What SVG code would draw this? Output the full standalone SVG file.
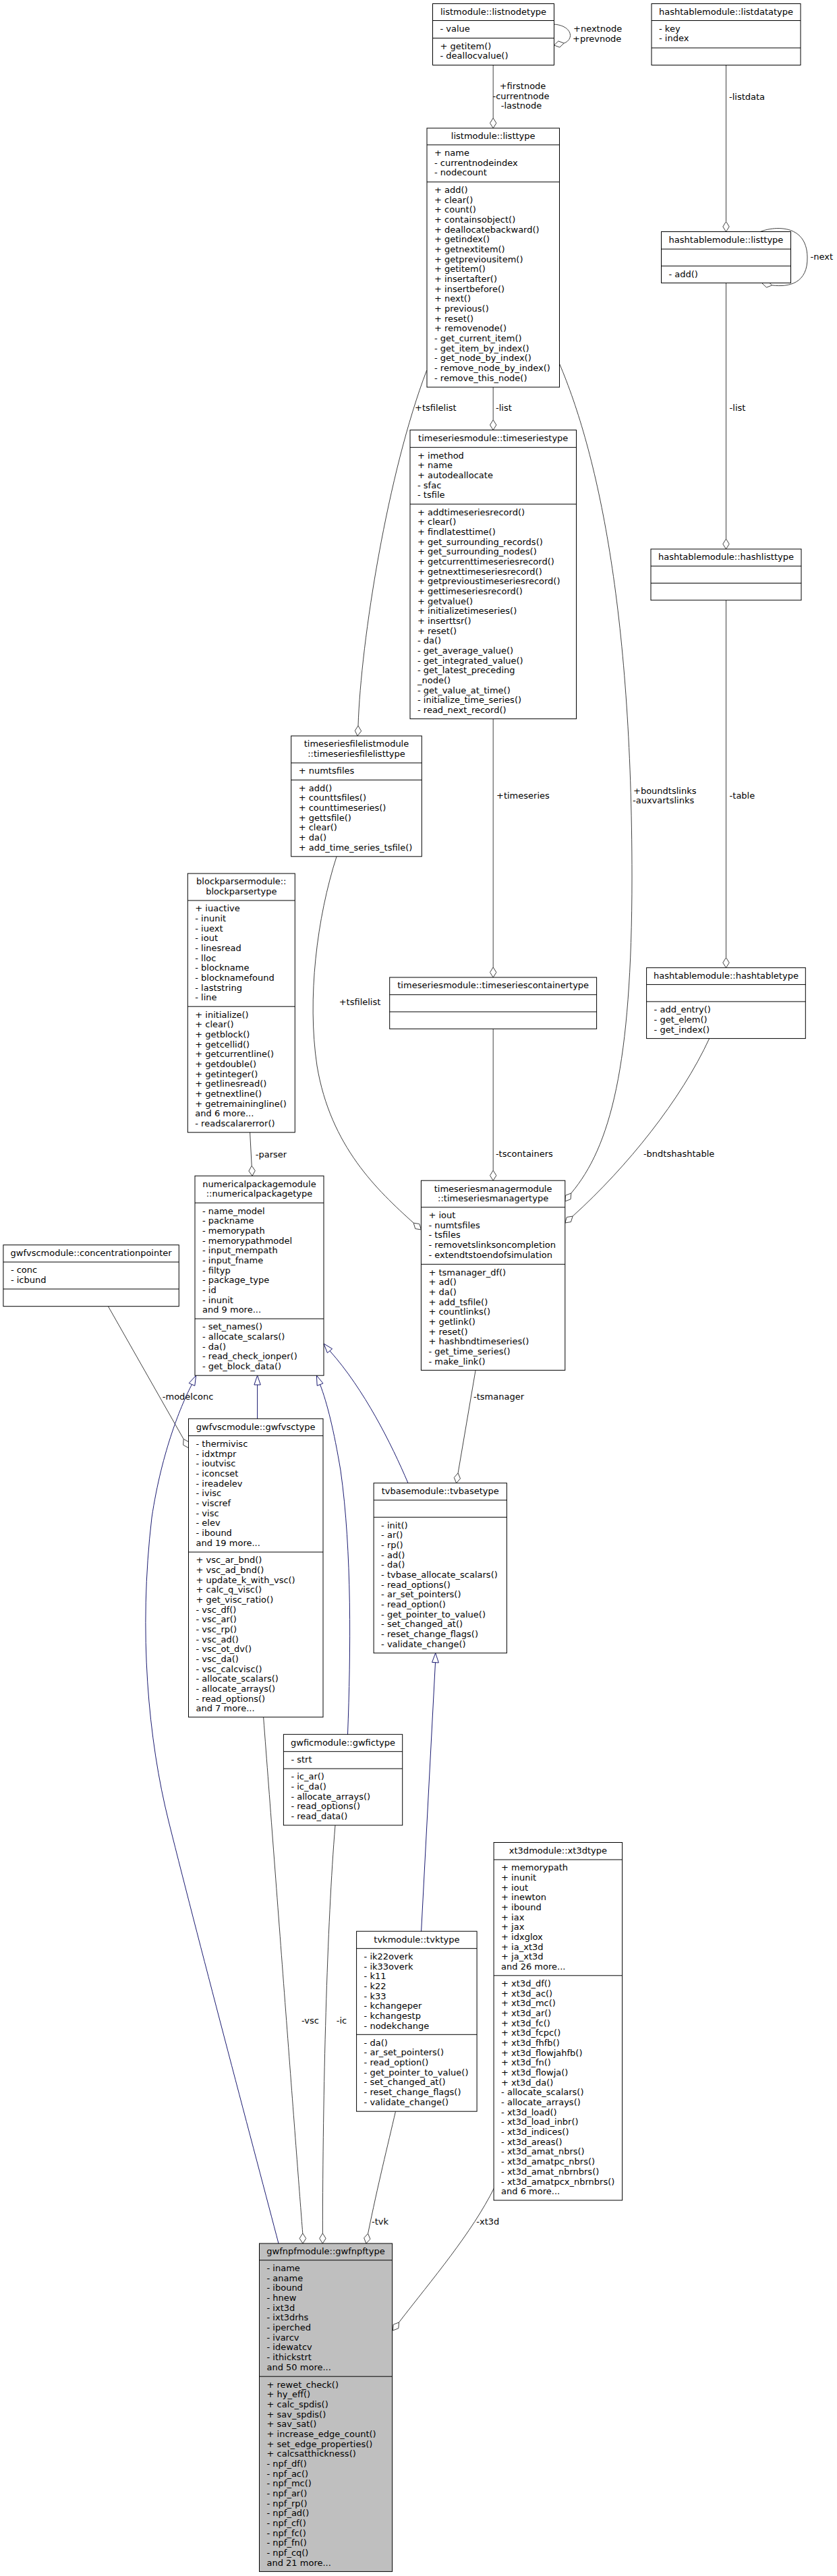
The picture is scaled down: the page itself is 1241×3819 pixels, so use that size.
<svg xmlns="http://www.w3.org/2000/svg" width="1241" height="3819" viewBox="0 0 1241 3819">
<style>
.n rect{fill:#fff;stroke:#000;stroke-width:1}
.n path{fill:none;stroke:#000;stroke-width:1}
.g rect{fill:#bfbfbf}
text{font-family:"DejaVu Sans","Liberation Sans",sans-serif;font-size:13px;fill:#000}
.c{text-anchor:middle}
.e{fill:none;stroke:#404040;stroke-width:1}
.d{fill:#fff;stroke:#404040;stroke-width:1}
.i{fill:none;stroke:#191970;stroke-width:1}
.a{fill:#fff;stroke:#191970;stroke-width:1}
</style>
<rect width="1241" height="3819" fill="#fff"/>

<g id="connectors">
<!-- listnodetype self loop -->
<path class="e" d="M821.5,36 C848,38 852,58 836.2,64.1"/>
<polygon class="d" points="821.5,67 829.8,70.1 836.2,64.1 827.9,60.9"/>
<text x="850" y="47">+nextnode</text>
<text x="849" y="61.5">+prevnode</text>
<!-- listnodetype -> listtype -->
<path class="e" d="M731.2,96.5 V175"/>
<polygon class="d" points="731.2,190 735.9,182.5 731.2,175 726.5,182.5"/>
<text class="c" x="775" y="132">+firstnode</text>
<text class="c" x="772.5" y="146.6">-currentnode</text>
<text class="c" x="773" y="161">-lastnode</text>
<!-- listdatatype -> hashtable listtype -->
<path class="e" d="M1076.5,96.5 V328.5"/>
<polygon class="d" points="1076.5,343.5 1081.2,336 1076.5,328.5 1071.8,336"/>
<text x="1081" y="147.6">-listdata</text>
<!-- hashtable listtype self loop -->
<path class="e" d="M1127.4,343.5 C1145,336 1196,330 1197,381 C1198,420 1170,426 1144.7,422.9"/>
<polygon class="d" points="1130,420 1136.5,426.1 1144.7,422.9 1138.3,416.9"/>
<text x="1201.5" y="385">-next</text>
<!-- hashtable listtype -> hashlisttype -->
<path class="e" d="M1076.5,419.5 V799"/>
<polygon class="d" points="1076.5,814 1081.2,806.5 1076.5,799 1071.8,806.5"/>
<text x="1081.6" y="608.7">-list</text>
<!-- listtype -> timeseriestype -->
<path class="e" d="M731.2,574 V622.5"/>
<polygon class="d" points="731.2,637.5 735.9,630 731.2,622.5 726.5,630"/>
<text x="735" y="608.7">-list</text>
<!-- listtype -> timeseriesfilelisttype -->
<path class="e" d="M632.7,549 C575,700 535,950 531,1076"/>
<polygon class="d" points="530,1091 535.7,1083.8 531,1076 526.3,1083.2"/>
<text x="615" y="608.7">+tsfilelist</text>
<!-- timeseriestype -> containertype -->
<path class="e" d="M731.2,1065.7 V1434"/>
<polygon class="d" points="731.2,1449 735.9,1441.5 731.2,1434 726.5,1441.5"/>
<text x="736" y="1184.3">+timeseries</text>
<!-- listtype -> manager (boundtslinks) -->
<path class="e" d="M829.4,539 C885,670 937,900 937,1300 C937,1580 905,1700 846.8,1769"/>
<polygon class="d" points="837.8,1781 838.5,1772.2 846.8,1769 846.1,1777.8"/>
<text x="939" y="1176.9">+boundtslinks</text>
<text x="938" y="1190.8">-auxvartslinks</text>
<!-- hashlisttype -> hashtabletype -->
<path class="e" d="M1076.5,889.8 V1419.7"/>
<polygon class="d" points="1076.5,1434.7 1081.2,1427.2 1076.5,1419.7 1071.8,1427.2"/>
<text x="1081.6" y="1184.3">-table</text>
<!-- timeseriesfilelisttype -> manager -->
<path class="e" d="M499,1270 C470,1360 455,1480 470,1580 C490,1700 560,1765 613.2,1813.1"/>
<polygon class="d" points="624.4,1823 621.9,1814.5 613.2,1813.1 615.7,1821.6"/>
<text x="502.7" y="1490.4">+tsfilelist</text>
<!-- containertype -> manager -->
<path class="e" d="M731.2,1525.3 V1735.2"/>
<polygon class="d" points="731.2,1750.2 735.9,1742.7 731.2,1735.2 726.5,1742.7"/>
<text x="734.9" y="1715.3">-tscontainers</text>
<!-- hashtabletype -> manager -->
<path class="e" d="M1051.7,1539.6 C1010,1630 930,1730 849.1,1803.1"/>
<polygon class="d" points="837.8,1813 840.3,1804.5 849.1,1803.1 846.5,1811.5"/>
<text x="953.9" y="1715.3">-bndtshashtable</text>
<!-- blockparser -> numericalpackage -->
<path class="e" d="M370.6,1678.8 L373.2,1728.3"/>
<polygon class="d" points="374,1743.3 378.3,1735.55 373.2,1728.3 368.9,1736.05"/>
<text x="378.8" y="1715.7">-parser</text>
<!-- manager -> tvbase -->
<path class="e" d="M705.1,2031.4 L679.1,2183.9"/>
<polygon class="d" points="676.6,2198.7 682.5,2192.1 679.1,2183.9 673.3,2190.5"/>
<text x="702" y="2075.3">-tsmanager</text>
<!-- concentrationpointer -> gwfvsc -->
<path class="e" d="M160.4,1936.7 L272.15,2133.45"/>
<polygon class="d" points="279.5,2146.5 279.9,2137.7 272.15,2133.45 271.7,2142.3"/>
<text x="240.8" y="2074.9">-modelconc</text>
<!-- inheritance gwfvsc -> numericalpackage -->
<path class="i" d="M381.6,2103.3 V2053"/>
<polygon class="a" points="381.6,2039.2 386.3,2053 376.9,2053"/>
<!-- inheritance gwfnpf -> numericalpackage -->
<path class="i" d="M413,3326 C380,3200 300,2900 250,2700 C220,2580 205,2420 225,2250 C240,2150 270,2080 284.5,2052.5"/>
<polygon class="a" points="290.6,2039.2 288.8,2054.4 280.2,2050.6"/>
<!-- inheritance gwfic -> numericalpackage -->
<path class="i" d="M515.5,2571.3 C520,2450 522,2300 505,2180 C495,2120 485,2080 474.6,2052.6"/>
<polygon class="a" points="469.4,2039.2 479,2050.9 470.2,2054.3"/>
<!-- inheritance tvbase -> numericalpackage -->
<path class="i" d="M605,2198.7 C580,2140 540,2060 489,2002.7"/>
<polygon class="a" points="480,1992 492.6,1999.7 485.4,2005.7"/>
<!-- inheritance tvk -> tvbase -->
<path class="i" d="M624.6,2863.2 L645.5,2464.7"/>
<polygon class="a" points="645.7,2450.7 650.4,2465 640.6,2464.4"/>
<!-- gwfvsc -> gwfnpf -->
<path class="e" d="M390.6,2545.7 C410,2800 440,3200 448.8,3311"/>
<polygon class="d" points="449,3326 453.7,3318.5 448.8,3311 444.1,3318.5"/>
<text x="447" y="3000">-vsc</text>
<!-- gwfic -> gwfnpf -->
<path class="e" d="M497,2706 C485,2850 478.4,3100 478.4,3311"/>
<polygon class="d" points="478.4,3326 483.1,3318.5 478.4,3311 473.7,3318.5"/>
<text x="498.8" y="3000">-ic</text>
<!-- tvk -> gwfnpf -->
<path class="e" d="M586.5,3130.2 C575,3180 560,3240 545.6,3311.3"/>
<polygon class="d" points="542.9,3326 548.9,3319.5 545.6,3311.3 539.7,3317.8"/>
<text x="551" y="3297.5">-tvk</text>
<!-- xt3d -> gwfnpf -->
<path class="e" d="M733,3243 C700,3310 640,3380 591.5,3443"/>
<polygon class="d" points="582.5,3455 583.2,3446.2 591.5,3443 590.8,3451.8"/>
<text x="706.3" y="3297.5">-xt3d</text>
</g>

<g id="listnodetype" class="n">
<rect x="641.5" y="5.5" width="180" height="91"/>
<path d="M641.5,30.5H821.5M641.5,56.5H821.5"/>
<text class="c" x="731.5" y="22">listmodule::listnodetype</text>
<text x="652.5" y="46.8">- value</text>
<text x="652.5" y="72.8"><tspan x="652.5">+ getitem()</tspan><tspan x="652.5" dy="14.67">- deallocvalue()</tspan></text>
</g>

<g id="listdatatype" class="n">
<rect x="966" y="5.5" width="221" height="91"/>
<path d="M966,30.5H1187M966,71H1187"/>
<text class="c" x="1076.5" y="22">hashtablemodule::listdatatype</text>
<text x="977" y="46.8"><tspan x="977">- key</tspan><tspan x="977" dy="14.67">- index</tspan></text>
</g>

<g id="listtype" class="n">
<rect x="633" y="190" width="196.5" height="384"/>
<path d="M633,214.8H829.5M633,269.8H829.5"/>
<text class="c" x="731.2" y="206.3">listmodule::listtype</text>
<text x="644" y="231.1"><tspan x="644">+ name</tspan><tspan x="644" dy="14.67">- currentnodeindex</tspan><tspan x="644" dy="14.67">- nodecount</tspan></text>
<text x="644" y="286.1"><tspan x="644">+ add()</tspan><tspan x="644" dy="14.67">+ clear()</tspan><tspan x="644" dy="14.67">+ count()</tspan><tspan x="644" dy="14.67">+ containsobject()</tspan><tspan x="644" dy="14.67">+ deallocatebackward()</tspan><tspan x="644" dy="14.67">+ getindex()</tspan><tspan x="644" dy="14.67">+ getnextitem()</tspan><tspan x="644" dy="14.67">+ getpreviousitem()</tspan><tspan x="644" dy="14.67">+ getitem()</tspan><tspan x="644" dy="14.67">+ insertafter()</tspan><tspan x="644" dy="14.67">+ insertbefore()</tspan><tspan x="644" dy="14.67">+ next()</tspan><tspan x="644" dy="14.67">+ previous()</tspan><tspan x="644" dy="14.67">+ reset()</tspan><tspan x="644" dy="14.67">+ removenode()</tspan><tspan x="644" dy="14.67">- get_current_item()</tspan><tspan x="644" dy="14.67">- get_item_by_index()</tspan><tspan x="644" dy="14.67">- get_node_by_index()</tspan><tspan x="644" dy="14.67">- remove_node_by_index()</tspan><tspan x="644" dy="14.67">- remove_this_node()</tspan></text>
</g>

<g id="hashtable_listtype" class="n">
<rect x="980.5" y="343.5" width="192" height="76"/>
<path d="M980.5,369.2H1172.5M980.5,394.3H1172.5"/>
<text class="c" x="1076.5" y="360">hashtablemodule::listtype</text>
<text x="991.5" y="410.6">- add()</text>
</g>

<g id="timeseriestype" class="n">
<rect x="608" y="637.5" width="246.5" height="428.2"/>
<path d="M608,663.3H854.5M608,747.3H854.5"/>
<text class="c" x="731.2" y="653.8">timeseriesmodule::timeseriestype</text>
<text x="619" y="679.6"><tspan x="619">+ imethod</tspan><tspan x="619" dy="14.67">+ name</tspan><tspan x="619" dy="14.67">+ autodeallocate</tspan><tspan x="619" dy="14.67">- sfac</tspan><tspan x="619" dy="14.67">- tsfile</tspan></text>
<text x="619" y="763.6"><tspan x="619">+ addtimeseriesrecord()</tspan><tspan x="619" dy="14.67">+ clear()</tspan><tspan x="619" dy="14.67">+ findlatesttime()</tspan><tspan x="619" dy="14.67">+ get_surrounding_records()</tspan><tspan x="619" dy="14.67">+ get_surrounding_nodes()</tspan><tspan x="619" dy="14.67">+ getcurrenttimeseriesrecord()</tspan><tspan x="619" dy="14.67">+ getnexttimeseriesrecord()</tspan><tspan x="619" dy="14.67">+ getprevioustimeseriesrecord()</tspan><tspan x="619" dy="14.67">+ gettimeseriesrecord()</tspan><tspan x="619" dy="14.67">+ getvalue()</tspan><tspan x="619" dy="14.67">+ initializetimeseries()</tspan><tspan x="619" dy="14.67">+ inserttsr()</tspan><tspan x="619" dy="14.67">+ reset()</tspan><tspan x="619" dy="14.67">- da()</tspan><tspan x="619" dy="14.67">- get_average_value()</tspan><tspan x="619" dy="14.67">- get_integrated_value()</tspan><tspan x="619" dy="14.67">- get_latest_preceding</tspan><tspan x="619" dy="14.67">_node()</tspan><tspan x="619" dy="14.67">- get_value_at_time()</tspan><tspan x="619" dy="14.67">- initialize_time_series()</tspan><tspan x="619" dy="14.67">- read_next_record()</tspan></text>
</g>

<g id="hashlisttype" class="n">
<rect x="965" y="814" width="223" height="75.8"/>
<path d="M965,839.2H1188M965,864.5H1188"/>
<text class="c" x="1076.5" y="830.3">hashtablemodule::hashlisttype</text>
</g>

<g id="timeseriesfilelisttype" class="n">
<rect x="431.7" y="1091" width="193.6" height="178.8"/>
<path d="M431.7,1131H625.3M431.7,1156.3H625.3"/>
<text class="c" x="528.5" y="1107.3"><tspan x="528.5">timeseriesfilelistmodule</tspan><tspan x="528.5" dy="14.67">::timeseriesfilelisttype</tspan></text>
<text x="442.7" y="1147.3">+ numtsfiles</text>
<text x="442.7" y="1172.6"><tspan x="442.7">+ add()</tspan><tspan x="442.7" dy="14.67">+ counttsfiles()</tspan><tspan x="442.7" dy="14.67">+ counttimeseries()</tspan><tspan x="442.7" dy="14.67">+ gettsfile()</tspan><tspan x="442.7" dy="14.67">+ clear()</tspan><tspan x="442.7" dy="14.67">+ da()</tspan><tspan x="442.7" dy="14.67">+ add_time_series_tsfile()</tspan></text>
</g>

<g id="blockparsertype" class="n">
<rect x="278.3" y="1295" width="159" height="383.8"/>
<path d="M278.3,1335H437.3M278.3,1492.2H437.3"/>
<text class="c" x="357.8" y="1311.3"><tspan x="357.8">blockparsermodule::</tspan><tspan x="357.8" dy="14.67">blockparsertype</tspan></text>
<text x="289.3" y="1351.3"><tspan x="289.3">+ iuactive</tspan><tspan x="289.3" dy="14.67">- inunit</tspan><tspan x="289.3" dy="14.67">- iuext</tspan><tspan x="289.3" dy="14.67">- iout</tspan><tspan x="289.3" dy="14.67">- linesread</tspan><tspan x="289.3" dy="14.67">- lloc</tspan><tspan x="289.3" dy="14.67">- blockname</tspan><tspan x="289.3" dy="14.67">- blocknamefound</tspan><tspan x="289.3" dy="14.67">- laststring</tspan><tspan x="289.3" dy="14.67">- line</tspan></text>
<text x="289.3" y="1508.5"><tspan x="289.3">+ initialize()</tspan><tspan x="289.3" dy="14.67">+ clear()</tspan><tspan x="289.3" dy="14.67">+ getblock()</tspan><tspan x="289.3" dy="14.67">+ getcellid()</tspan><tspan x="289.3" dy="14.67">+ getcurrentline()</tspan><tspan x="289.3" dy="14.67">+ getdouble()</tspan><tspan x="289.3" dy="14.67">+ getinteger()</tspan><tspan x="289.3" dy="14.67">+ getlinesread()</tspan><tspan x="289.3" dy="14.67">+ getnextline()</tspan><tspan x="289.3" dy="14.67">+ getremainingline()</tspan><tspan x="289.3" dy="14.67">and 6 more...</tspan><tspan x="289.3" dy="14.67">- readscalarerror()</tspan></text>
</g>

<g id="timeseriescontainertype" class="n">
<rect x="577.7" y="1449" width="306.9" height="76.3"/>
<path d="M577.7,1474.7H884.6M577.7,1500H884.6"/>
<text class="c" x="731.2" y="1465.3">timeseriesmodule::timeseriescontainertype</text>
</g>

<g id="hashtabletype" class="n">
<rect x="958.6" y="1434.7" width="235.7" height="104.9"/>
<path d="M958.6,1459.6H1194.3M958.6,1484.9H1194.3"/>
<text class="c" x="1076.5" y="1451">hashtablemodule::hashtabletype</text>
<text x="969.6" y="1501.2"><tspan x="969.6">- add_entry()</tspan><tspan x="969.6" dy="14.67">- get_elem()</tspan><tspan x="969.6" dy="14.67">- get_index()</tspan></text>
</g>

<g id="numericalpackagetype" class="n">
<rect x="289" y="1743.3" width="191" height="295.9"/>
<path d="M289,1783.3H480M289,1955.1H480"/>
<text class="c" x="384.5" y="1759.6"><tspan x="384.5">numericalpackagemodule</tspan><tspan x="384.5" dy="14.67">::numericalpackagetype</tspan></text>
<text x="300" y="1799.6"><tspan x="300">- name_model</tspan><tspan x="300" dy="14.67">- packname</tspan><tspan x="300" dy="14.67">- memorypath</tspan><tspan x="300" dy="14.67">- memorypathmodel</tspan><tspan x="300" dy="14.67">- input_mempath</tspan><tspan x="300" dy="14.67">- input_fname</tspan><tspan x="300" dy="14.67">- filtyp</tspan><tspan x="300" dy="14.67">- package_type</tspan><tspan x="300" dy="14.67">- id</tspan><tspan x="300" dy="14.67">- inunit</tspan><tspan x="300" dy="14.67">and 9 more...</tspan></text>
<text x="300" y="1971.4"><tspan x="300">- set_names()</tspan><tspan x="300" dy="14.67">- allocate_scalars()</tspan><tspan x="300" dy="14.67">- da()</tspan><tspan x="300" dy="14.67">- read_check_ionper()</tspan><tspan x="300" dy="14.67">- get_block_data()</tspan></text>
</g>

<g id="timeseriesmanagertype" class="n">
<rect x="624.4" y="1750.2" width="213.4" height="281.2"/>
<path d="M624.4,1789.8H837.8M624.4,1874.3H837.8"/>
<text class="c" x="731.1" y="1766.5"><tspan x="731.1">timeseriesmanagermodule</tspan><tspan x="731.1" dy="14.67">::timeseriesmanagertype</tspan></text>
<text x="635.4" y="1806.1"><tspan x="635.4">+ iout</tspan><tspan x="635.4" dy="14.67">- numtsfiles</tspan><tspan x="635.4" dy="14.67">- tsfiles</tspan><tspan x="635.4" dy="14.67">- removetslinksoncompletion</tspan><tspan x="635.4" dy="14.67">- extendtstoendofsimulation</tspan></text>
<text x="635.4" y="1890.6"><tspan x="635.4">+ tsmanager_df()</tspan><tspan x="635.4" dy="14.67">+ ad()</tspan><tspan x="635.4" dy="14.67">+ da()</tspan><tspan x="635.4" dy="14.67">+ add_tsfile()</tspan><tspan x="635.4" dy="14.67">+ countlinks()</tspan><tspan x="635.4" dy="14.67">+ getlink()</tspan><tspan x="635.4" dy="14.67">+ reset()</tspan><tspan x="635.4" dy="14.67">+ hashbndtimeseries()</tspan><tspan x="635.4" dy="14.67">- get_time_series()</tspan><tspan x="635.4" dy="14.67">- make_link()</tspan></text>
</g>

<g id="concentrationpointer" class="n">
<rect x="4.9" y="1845.7" width="260.4" height="91"/>
<path d="M4.9,1871H265.3M4.9,1911H265.3"/>
<text class="c" x="135.1" y="1862">gwfvscmodule::concentrationpointer</text>
<text x="15.9" y="1887.3"><tspan x="15.9">- conc</tspan><tspan x="15.9" dy="14.67">- icbund</tspan></text>
</g>

<g id="gwfvsctype" class="n">
<rect x="279.5" y="2103.3" width="199.5" height="442.4"/>
<path d="M279.5,2128.6H479M279.5,2301H479"/>
<text class="c" x="379.2" y="2119.6">gwfvscmodule::gwfvsctype</text>
<text x="290.5" y="2144.9"><tspan x="290.5">- thermivisc</tspan><tspan x="290.5" dy="14.67">- idxtmpr</tspan><tspan x="290.5" dy="14.67">- ioutvisc</tspan><tspan x="290.5" dy="14.67">- iconcset</tspan><tspan x="290.5" dy="14.67">- ireadelev</tspan><tspan x="290.5" dy="14.67">- ivisc</tspan><tspan x="290.5" dy="14.67">- viscref</tspan><tspan x="290.5" dy="14.67">- visc</tspan><tspan x="290.5" dy="14.67">- elev</tspan><tspan x="290.5" dy="14.67">- ibound</tspan><tspan x="290.5" dy="14.67">and 19 more...</tspan></text>
<text x="290.5" y="2317.3"><tspan x="290.5">+ vsc_ar_bnd()</tspan><tspan x="290.5" dy="14.67">+ vsc_ad_bnd()</tspan><tspan x="290.5" dy="14.67">+ update_k_with_vsc()</tspan><tspan x="290.5" dy="14.67">+ calc_q_visc()</tspan><tspan x="290.5" dy="14.67">+ get_visc_ratio()</tspan><tspan x="290.5" dy="14.67">- vsc_df()</tspan><tspan x="290.5" dy="14.67">- vsc_ar()</tspan><tspan x="290.5" dy="14.67">- vsc_rp()</tspan><tspan x="290.5" dy="14.67">- vsc_ad()</tspan><tspan x="290.5" dy="14.67">- vsc_ot_dv()</tspan><tspan x="290.5" dy="14.67">- vsc_da()</tspan><tspan x="290.5" dy="14.67">- vsc_calcvisc()</tspan><tspan x="290.5" dy="14.67">- allocate_scalars()</tspan><tspan x="290.5" dy="14.67">- allocate_arrays()</tspan><tspan x="290.5" dy="14.67">- read_options()</tspan><tspan x="290.5" dy="14.67">and 7 more...</tspan></text>
</g>

<g id="tvbasetype" class="n">
<rect x="554.1" y="2198.7" width="197.3" height="252"/>
<path d="M554.1,2224H751.4M554.1,2249.3H751.4"/>
<text class="c" x="652.7" y="2215">tvbasemodule::tvbasetype</text>
<text x="565.1" y="2265.6"><tspan x="565.1">- init()</tspan><tspan x="565.1" dy="14.67">- ar()</tspan><tspan x="565.1" dy="14.67">- rp()</tspan><tspan x="565.1" dy="14.67">- ad()</tspan><tspan x="565.1" dy="14.67">- da()</tspan><tspan x="565.1" dy="14.67">- tvbase_allocate_scalars()</tspan><tspan x="565.1" dy="14.67">- read_options()</tspan><tspan x="565.1" dy="14.67">- ar_set_pointers()</tspan><tspan x="565.1" dy="14.67">- read_option()</tspan><tspan x="565.1" dy="14.67">- get_pointer_to_value()</tspan><tspan x="565.1" dy="14.67">- set_changed_at()</tspan><tspan x="565.1" dy="14.67">- reset_change_flags()</tspan><tspan x="565.1" dy="14.67">- validate_change()</tspan></text>
</g>

<g id="gwfictype" class="n">
<rect x="420.4" y="2571.3" width="176.3" height="134.7"/>
<path d="M420.4,2596.7H596.7M420.4,2622.1H596.7"/>
<text class="c" x="508.5" y="2587.6">gwficmodule::gwfictype</text>
<text x="431.4" y="2613">- strt</text>
<text x="431.4" y="2638.4"><tspan x="431.4">- ic_ar()</tspan><tspan x="431.4" dy="14.67">- ic_da()</tspan><tspan x="431.4" dy="14.67">- allocate_arrays()</tspan><tspan x="431.4" dy="14.67">- read_options()</tspan><tspan x="431.4" dy="14.67">- read_data()</tspan></text>
</g>

<g id="tvktype" class="n">
<rect x="528.6" y="2863.2" width="178.5" height="267"/>
<path d="M528.6,2888.7H707.1M528.6,3016.3H707.1"/>
<text class="c" x="617.9" y="2879.5">tvkmodule::tvktype</text>
<text x="539.6" y="2905"><tspan x="539.6">- ik22overk</tspan><tspan x="539.6" dy="14.67">- ik33overk</tspan><tspan x="539.6" dy="14.67">- k11</tspan><tspan x="539.6" dy="14.67">- k22</tspan><tspan x="539.6" dy="14.67">- k33</tspan><tspan x="539.6" dy="14.67">- kchangeper</tspan><tspan x="539.6" dy="14.67">- kchangestp</tspan><tspan x="539.6" dy="14.67">- nodekchange</tspan></text>
<text x="539.6" y="3032.6"><tspan x="539.6">- da()</tspan><tspan x="539.6" dy="14.67">- ar_set_pointers()</tspan><tspan x="539.6" dy="14.67">- read_option()</tspan><tspan x="539.6" dy="14.67">- get_pointer_to_value()</tspan><tspan x="539.6" dy="14.67">- set_changed_at()</tspan><tspan x="539.6" dy="14.67">- reset_change_flags()</tspan><tspan x="539.6" dy="14.67">- validate_change()</tspan></text>
</g>

<g id="xt3dtype" class="n">
<rect x="732.1" y="2731.5" width="190.5" height="530.5"/>
<path d="M732.1,2757H922.6M732.1,2928.8H922.6"/>
<text class="c" x="827.4" y="2747.8">xt3dmodule::xt3dtype</text>
<text x="743.1" y="2773.3"><tspan x="743.1">+ memorypath</tspan><tspan x="743.1" dy="14.67">+ inunit</tspan><tspan x="743.1" dy="14.67">+ iout</tspan><tspan x="743.1" dy="14.67">+ inewton</tspan><tspan x="743.1" dy="14.67">+ ibound</tspan><tspan x="743.1" dy="14.67">+ iax</tspan><tspan x="743.1" dy="14.67">+ jax</tspan><tspan x="743.1" dy="14.67">+ idxglox</tspan><tspan x="743.1" dy="14.67">+ ia_xt3d</tspan><tspan x="743.1" dy="14.67">+ ja_xt3d</tspan><tspan x="743.1" dy="14.67">and 26 more...</tspan></text>
<text x="743.1" y="2945.1"><tspan x="743.1">+ xt3d_df()</tspan><tspan x="743.1" dy="14.67">+ xt3d_ac()</tspan><tspan x="743.1" dy="14.67">+ xt3d_mc()</tspan><tspan x="743.1" dy="14.67">+ xt3d_ar()</tspan><tspan x="743.1" dy="14.67">+ xt3d_fc()</tspan><tspan x="743.1" dy="14.67">+ xt3d_fcpc()</tspan><tspan x="743.1" dy="14.67">+ xt3d_fhfb()</tspan><tspan x="743.1" dy="14.67">+ xt3d_flowjahfb()</tspan><tspan x="743.1" dy="14.67">+ xt3d_fn()</tspan><tspan x="743.1" dy="14.67">+ xt3d_flowja()</tspan><tspan x="743.1" dy="14.67">+ xt3d_da()</tspan><tspan x="743.1" dy="14.67">- allocate_scalars()</tspan><tspan x="743.1" dy="14.67">- allocate_arrays()</tspan><tspan x="743.1" dy="14.67">- xt3d_load()</tspan><tspan x="743.1" dy="14.67">- xt3d_load_inbr()</tspan><tspan x="743.1" dy="14.67">- xt3d_indices()</tspan><tspan x="743.1" dy="14.67">- xt3d_areas()</tspan><tspan x="743.1" dy="14.67">- xt3d_amat_nbrs()</tspan><tspan x="743.1" dy="14.67">- xt3d_amatpc_nbrs()</tspan><tspan x="743.1" dy="14.67">- xt3d_amat_nbrnbrs()</tspan><tspan x="743.1" dy="14.67">- xt3d_amatpcx_nbrnbrs()</tspan><tspan x="743.1" dy="14.67">and 6 more...</tspan></text>
</g>

<g id="gwfnpftype" class="n g">
<rect x="384.5" y="3326" width="197.1" height="486.4"/>
<path d="M384.5,3350.8H581.6M384.5,3523.2H581.6"/>
<text class="c" x="483" y="3342.3">gwfnpfmodule::gwfnpftype</text>
<text x="395.5" y="3367.1"><tspan x="395.5">- iname</tspan><tspan x="395.5" dy="14.67">- aname</tspan><tspan x="395.5" dy="14.67">- ibound</tspan><tspan x="395.5" dy="14.67">- hnew</tspan><tspan x="395.5" dy="14.67">- ixt3d</tspan><tspan x="395.5" dy="14.67">- ixt3drhs</tspan><tspan x="395.5" dy="14.67">- iperched</tspan><tspan x="395.5" dy="14.67">- ivarcv</tspan><tspan x="395.5" dy="14.67">- idewatcv</tspan><tspan x="395.5" dy="14.67">- ithickstrt</tspan><tspan x="395.5" dy="14.67">and 50 more...</tspan></text>
<text x="395.5" y="3539.5"><tspan x="395.5">+ rewet_check()</tspan><tspan x="395.5" dy="14.67">+ hy_eff()</tspan><tspan x="395.5" dy="14.67">+ calc_spdis()</tspan><tspan x="395.5" dy="14.67">+ sav_spdis()</tspan><tspan x="395.5" dy="14.67">+ sav_sat()</tspan><tspan x="395.5" dy="14.67">+ increase_edge_count()</tspan><tspan x="395.5" dy="14.67">+ set_edge_properties()</tspan><tspan x="395.5" dy="14.67">+ calcsatthickness()</tspan><tspan x="395.5" dy="14.67">- npf_df()</tspan><tspan x="395.5" dy="14.67">- npf_ac()</tspan><tspan x="395.5" dy="14.67">- npf_mc()</tspan><tspan x="395.5" dy="14.67">- npf_ar()</tspan><tspan x="395.5" dy="14.67">- npf_rp()</tspan><tspan x="395.5" dy="14.67">- npf_ad()</tspan><tspan x="395.5" dy="14.67">- npf_cf()</tspan><tspan x="395.5" dy="14.67">- npf_fc()</tspan><tspan x="395.5" dy="14.67">- npf_fn()</tspan><tspan x="395.5" dy="14.67">- npf_cq()</tspan><tspan x="395.5" dy="14.67">and 21 more...</tspan></text>
</g>
</svg>
